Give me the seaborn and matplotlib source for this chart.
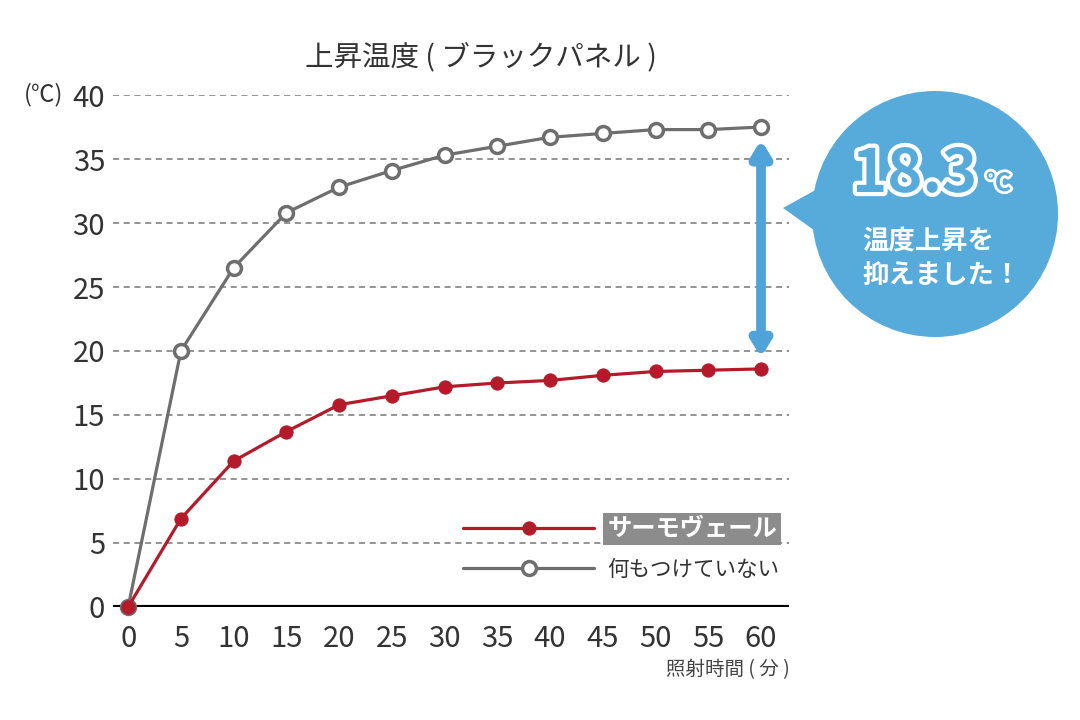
import numpy as np
import pandas as pd
import seaborn as sns
import matplotlib.pyplot as plt
from matplotlib.patches import Circle, Polygon
import matplotlib.patheffects as pe

minutes = [0, 5, 10, 15, 20, 25, 30, 35, 40, 45, 50, 55, 60]
thermo_veil = [0, 6.9, 11.4, 13.7, 15.8, 16.5, 17.2, 17.5, 17.7, 18.1, 18.4, 18.5, 18.6]
nothing = [0, 20.0, 26.5, 30.8, 32.8, 34.1, 35.3, 36.0, 36.7, 37.0, 37.3, 37.3, 37.5]
labels = ['サーモヴェール', '何もつけていない']

RED = '#b51a2a'
GRAY = '#6e6e6e'
BLUE = '#56abdb'

sns.set_style('white')
plt.rcParams['font.family'] = ['Noto Sans CJK JP', 'DejaVu Sans']

df = pd.DataFrame({'min': minutes, 'tv': thermo_veil, 'none': nothing})

fig = plt.figure(figsize=(10.8, 7.2), dpi=100)
ax = fig.add_axes([0.105, 0.157, 0.626, 0.711])

sns.lineplot(data=df, x='min', y='tv', ax=ax, color=RED, lw=2.3, marker='o', markersize=9.5,
             markeredgecolor=RED, label=labels[0], clip_on=False, zorder=4)
sns.lineplot(data=df, x='min', y='none', ax=ax, color=GRAY, lw=2.3, marker='o', markersize=10,
             markerfacecolor='white', markeredgecolor=GRAY, markeredgewidth=2.5,
             label=labels[1], clip_on=False, zorder=3)

ax.set_xlim(-1.4, 62.7)
ax.set_ylim(0, 40)
ax.set_xticks(minutes)
ax.set_yticks(range(0, 41, 5))
for y in range(5, 41, 5):
    ax.axhline(y, color='#777777', lw=1.1, ls=(0, (4, 3)), zorder=1)
ax.axhline(0, color='black', lw=3, zorder=2)
sns.despine(ax=ax, left=True, bottom=True)
ax.tick_params(length=0, labelsize=21, colors='#333333')
ax.tick_params(axis='x', pad=12)
ax.tick_params(axis='y', pad=6)
ax.set_xlabel('')
ax.set_ylabel('')

fig.text(0.445, 0.921, '上昇温度 ( ブラックパネル )', fontsize=20.5, color='#333333', ha='center', va='center')
fig.text(0.040, 0.868, '(℃)', fontsize=17, color='#333333', ha='center', va='center')
fig.text(0.731, 0.07, '照射時間 ( 分 )', fontsize=14, color='#444444', ha='right', va='center')

leg = ax.legend(loc='lower left', bbox_to_anchor=(0.517, 0.05), frameon=False, fontsize=17.5,
                handlelength=5.4, handletextpad=0.55, labelspacing=0.75,
                borderpad=0, borderaxespad=0)
t0 = leg.get_texts()[0]
t0.set_color('white')
t0.set_fontweight('bold')
t0.set_bbox(dict(facecolor='#8c8c8c', edgecolor='none', pad=3))
leg.get_texts()[1].set_color('#333333')
leg.get_texts()[1].set_fontsize(15.5)

# double arrow between the two curves at 60 min
ax.annotate('', xy=(minutes[-1], thermo_veil[-1] + 0.9), xytext=(minutes[-1], nothing[-1] - 1.0),
            arrowprops=dict(arrowstyle='<|-|>,head_width=0.55,head_length=0.9', color='#4fa3d9',
                            lw=7, shrinkA=0, shrinkB=0), annotation_clip=False)

# speech bubble
tr = fig.dpi_scale_trans
fig.patches.append(Circle((9.35, 5.06), 1.23, transform=tr, facecolor=BLUE, edgecolor='none'))
fig.patches.append(Polygon([(8.3, 5.38), (7.83, 5.12), (8.25, 4.82)], closed=True, transform=tr,
                           facecolor=BLUE, edgecolor='none'))
fig.text(8.52, 5.45, '18.3', transform=tr, fontsize=43, fontweight='bold', color=BLUE,
         ha='left', va='center', path_effects=[pe.withStroke(linewidth=6, foreground='white')])
fig.text(9.86, 5.36, '℃', transform=tr, fontsize=18, fontweight='bold', color=BLUE,
         ha='left', va='center', path_effects=[pe.withStroke(linewidth=4, foreground='white')])
fig.text(8.62, 4.79, '温度上昇を', transform=tr, fontsize=19, fontweight='bold', color='white',
         ha='left', va='center')
fig.text(8.62, 4.44, '抑えました！', transform=tr, fontsize=19, fontweight='bold', color='white',
         ha='left', va='center')

fig.savefig('out.png', dpi=100)
